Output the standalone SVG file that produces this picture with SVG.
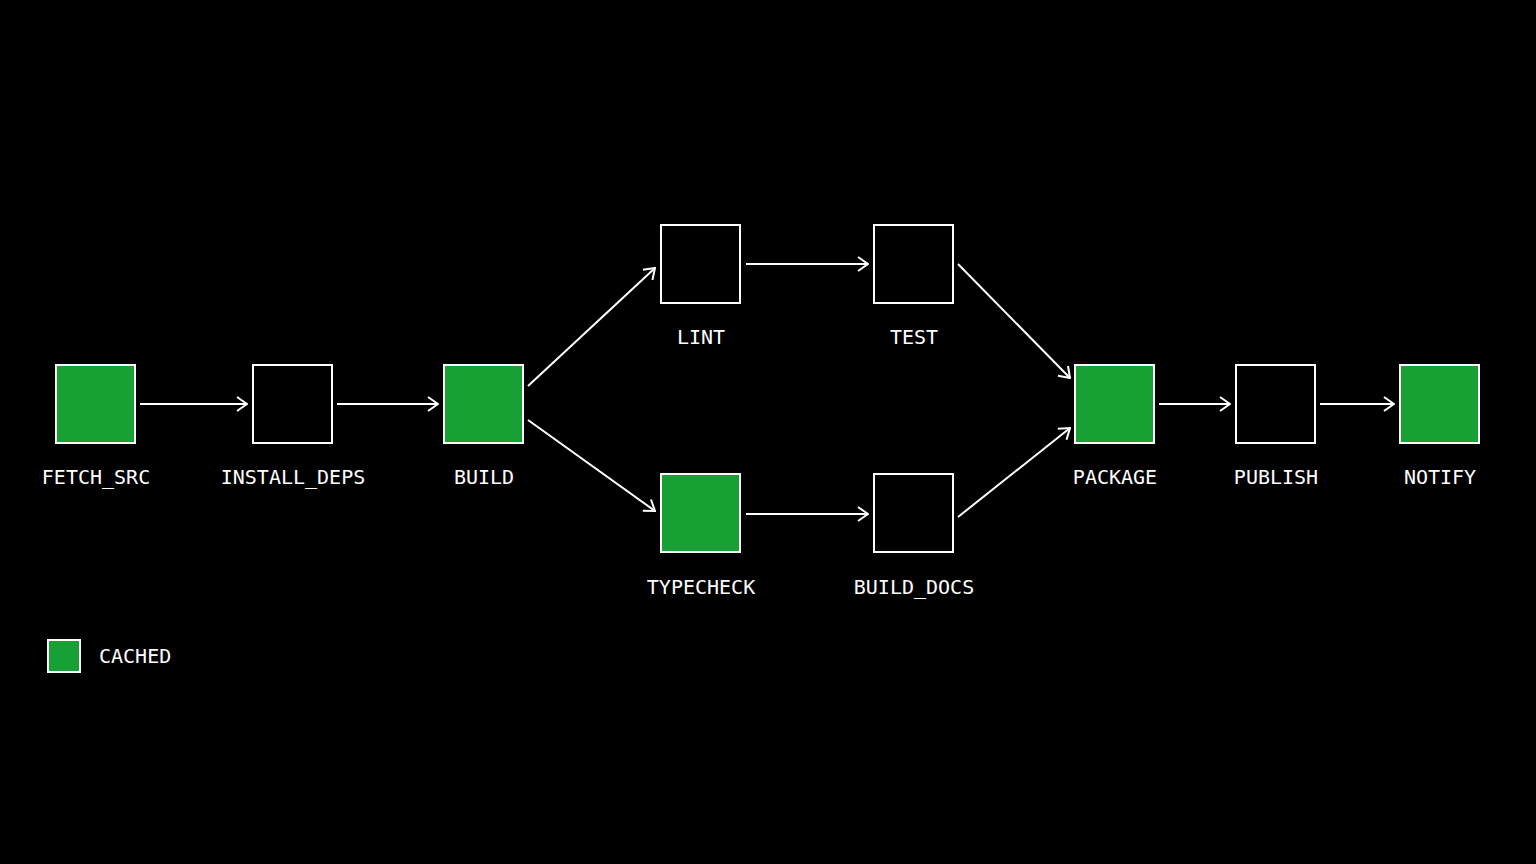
<svg xmlns="http://www.w3.org/2000/svg" width="1536" height="864" viewBox="0 0 1536 864">
<defs>
<marker id="ah" viewBox="0 0 12 16" refX="11" refY="8" markerWidth="12" markerHeight="16" markerUnits="userSpaceOnUse" orient="auto">
<path d="M1,1 L11,8 L1,15" fill="none" stroke="#fff" stroke-width="2"/>
</marker>
<style>
.n{fill:#000;stroke:#fff;stroke-width:2}
.c{fill:#17a033;stroke:#fff;stroke-width:2}
.t{fill:#fff;font-family:"DejaVu Sans Mono",monospace;font-size:20px;text-anchor:middle}
.e{stroke:#fff;stroke-width:2;fill:none;marker-end:url(#ah)}
</style>
</defs>
<rect width="1536" height="864" fill="#000"/>
<g id="connectors">
<line class="e" x1="140" y1="404" x2="247" y2="404"/>
<line class="e" x1="337" y1="404" x2="438" y2="404"/>
<line class="e" x1="528" y1="386" x2="655" y2="268"/>
<line class="e" x1="528" y1="420" x2="655" y2="511"/>
<line class="e" x1="746" y1="264" x2="868" y2="264"/>
<line class="e" x1="746" y1="514" x2="868" y2="514"/>
<line class="e" x1="958" y1="264" x2="1070" y2="378"/>
<line class="e" x1="958" y1="517" x2="1070" y2="428"/>
<line class="e" x1="1159" y1="404" x2="1230" y2="404"/>
<line class="e" x1="1320" y1="404" x2="1394" y2="404"/>
</g>
<g id="fetch_src"><rect class="c" x="56" y="365" width="79" height="78"/><text class="t" x="96" y="484">FETCH_SRC</text></g>
<g id="install_deps"><rect class="n" x="253" y="365" width="79" height="78"/><text class="t" x="293" y="484">INSTALL_DEPS</text></g>
<g id="build"><rect class="c" x="444" y="365" width="79" height="78"/><text class="t" x="484" y="484">BUILD</text></g>
<g id="lint"><rect class="n" x="661" y="225" width="79" height="78"/><text class="t" x="701" y="344">LINT</text></g>
<g id="test"><rect class="n" x="874" y="225" width="79" height="78"/><text class="t" x="914" y="344">TEST</text></g>
<g id="typecheck"><rect class="c" x="661" y="474" width="79" height="78"/><text class="t" x="701" y="594">TYPECHECK</text></g>
<g id="build_docs"><rect class="n" x="874" y="474" width="79" height="78"/><text class="t" x="914" y="594">BUILD_DOCS</text></g>
<g id="package"><rect class="c" x="1075" y="365" width="79" height="78"/><text class="t" x="1115" y="484">PACKAGE</text></g>
<g id="publish"><rect class="n" x="1236" y="365" width="79" height="78"/><text class="t" x="1276" y="484">PUBLISH</text></g>
<g id="notify"><rect class="c" x="1400" y="365" width="79" height="78"/><text class="t" x="1440" y="484">NOTIFY</text></g>
<g id="legend"><rect class="c" x="48" y="640" width="32" height="32"/><text class="t" x="99" y="663" style="text-anchor:start">CACHED</text></g>
</svg>
